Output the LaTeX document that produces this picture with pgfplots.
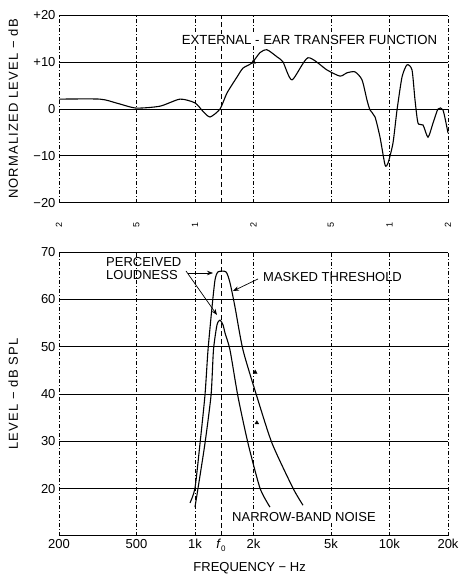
\documentclass[border=0pt]{standalone}
\usepackage{fontspec}
\setmainfont{Liberation Sans}
\usepackage{pgfplots}
\pgfplotsset{compat=1.18}
\usetikzlibrary{arrows.meta}

\pgfplotsset{
  every axis/.append style={
    xmode=log, scale only axis, width=389pt,
    xmin=200, xmax=20000,
    axis line style={draw=none},
    tick style={draw=none},
    xmajorgrids, ymajorgrids,
    major x grid style={black, dash pattern=on 4pt off 2pt on 1pt off 2pt, line width=0.7pt},
    major y grid style={black, line width=1pt},
    xtick={200,500,1000,2000,5000,10000,20000},
    extra x ticks={1360},
    extra x tick style={major x grid style={black, dash pattern=on 5pt off 3pt, line width=0.8pt}},
    tick label style={font=\fontsize{13}{13}\selectfont},
    every axis y label/.style={at={(axis description cs:-0.118,0.5)}, rotate=90, anchor=center,
      font=\fontsize{13}{13}\selectfont\addfontfeature{LetterSpace=9}},
    clip=false,
  },
}

\begin{document}
\begin{tikzpicture}[x=1pt,y=1pt]
\useasboundingbox (0,0) rectangle (461,574);

%% upper panel: external-ear transfer function
\begin{axis}[at={(59pt,371pt)}, anchor=south west, height=188pt,
  ymin=-20, ymax=20, ytick={-20,-10,0,10,20},
  yticklabels={−20,−10,0,+10,+20},
  xticklabels={,,,,,,}, extra x tick labels={},
  ylabel={NORMALIZED LEVEL − dB}]
\addplot[black, line width=1.1pt, smooth, tension=0.4, mark=none] coordinates {
  (200,2.1)(325,2.1)(400,1.2)(498,0.2)(661,0.6)(838,2.1)(1000,1.3)(1100,-0.5)
  (1195,-1.7)(1345,0)(1461,3.4)(1645,6.8)(1766,8.7)(1964,9.8)(2160,12)(2346,12.6)
  (2641,11.1)(2836,10)(3155,6.2)(3811,10.9)(4775,8.3)(5570,7)(6050,7.7)(6650,7.9)
  (7226,6.2)(7666,1.9)(7944,-0.2)(8428,-1.7)(8942,-6)(9490,-11.9)(9832,-11.5)
  (10430,-7.2)(10936,-0.2)(11602,6.8)(12308,9.4)(13060,8.3)(13532,1.9)(14024,-3)
  (14878,-3.4)(15786,-6)(16748,-3)(17768,0)(18850,-0.2)(20000,-5.1)
};
\addplot[only marks, mark=triangle*, mark size=2.5pt, black] coordinates {(2000,10)};
\node[rotate=90, font=\fontsize{9}{9}\selectfont] at (axis cs:200,-24.7) {2};
\node[rotate=90, font=\fontsize{9}{9}\selectfont] at (axis cs:500,-24.7) {5};
\node[rotate=90, font=\fontsize{9}{9}\selectfont] at (axis cs:1000,-24.7) {1};
\node[rotate=90, font=\fontsize{9}{9}\selectfont] at (axis cs:2000,-24.7) {2};
\node[rotate=90, font=\fontsize{9}{9}\selectfont] at (axis cs:5000,-24.7) {5};
\node[rotate=90, font=\fontsize{9}{9}\selectfont] at (axis cs:10000,-24.7) {1};
\node[rotate=90, font=\fontsize{9}{9}\selectfont] at (axis cs:20000,-24.7) {2};
\end{axis}

%% lower panel: masked threshold and narrow-band noise
\begin{axis}[at={(59pt,38pt)}, anchor=south west, height=284pt,
  ymin=10, ymax=70, ytick={10,20,...,70},
  yticklabels={,20,30,40,50,60,70},
  xticklabels={200,500,1k,2k,5k,10k,20k},
  extra x tick labels={\textit{f}\raisebox{-0.4ex}{\fontsize{8}{8}\selectfont 0}},
  ylabel={LEVEL − dB SPL},
  xlabel={FREQUENCY − Hz},
  every axis x label/.style={at={(axis description cs:0.49,-0.113)}, anchor=center,
    font=\fontsize{13}{13}\selectfont}]
% masked threshold
\addplot[black, line width=1.1pt, smooth, tension=0.4, mark=none] coordinates {
  (943,17)(1000,20.1)(1062,29.6)(1126,39.8)(1167,49.3)(1224,58.4)(1268,64.1)
  (1314,65.8)(1444,65.8)(1514,63.5)(1606,58.4)(1766,49.3)(2084,39.4)(2490,29.6)
  (3192,20.1)(3594,16.5)
};
% narrow-band noise
\addplot[black, line width=1.1pt, smooth, tension=0.4, mark=none] coordinates {
  (1000,16.1)(1037,20.1)(1126,29.6)(1210,39.8)(1245,49.3)(1298,54.6)(1345,55.6)
  (1394,54.6)(1427,52.9)(1514,49.3)(1665,39.4)(1874,29.6)(2160,20.1)(2431,16.1)
};
\addplot[only marks, mark=triangle*, mark size=2.2pt, black] coordinates {(2040,44.6)(2080,33.9)};
\end{axis}

\node[fill=white, inner sep=1.5pt, font=\fontsize{13.2}{13.2}\selectfont] at (309.5,534) {EXTERNAL - EAR TRANSFER FUNCTION};
\node[anchor=north west, align=left, inner sep=0pt, font=\fontsize{13}{13.5}\selectfont] at (106,317) {PERCEIVED\\LOUDNESS};
\node[anchor=west, inner sep=0pt, font=\fontsize{13}{13}\selectfont] at (263,297) {MASKED THRESHOLD};
\node[anchor=west, fill=white, inner sep=1pt, font=\fontsize{13}{13}\selectfont] at (231,57) {NARROW-BAND NOISE};
\draw[line width=0.7pt, -{Stealth[length=6pt]}] (188,301) -- (213,301);
\draw[line width=0.7pt, -{Stealth[length=6pt]}] (186,303) -- (217,259);
\draw[line width=0.7pt, -{Stealth[length=6pt]}] (258,295) -- (233,283);
\end{tikzpicture}
\end{document}
